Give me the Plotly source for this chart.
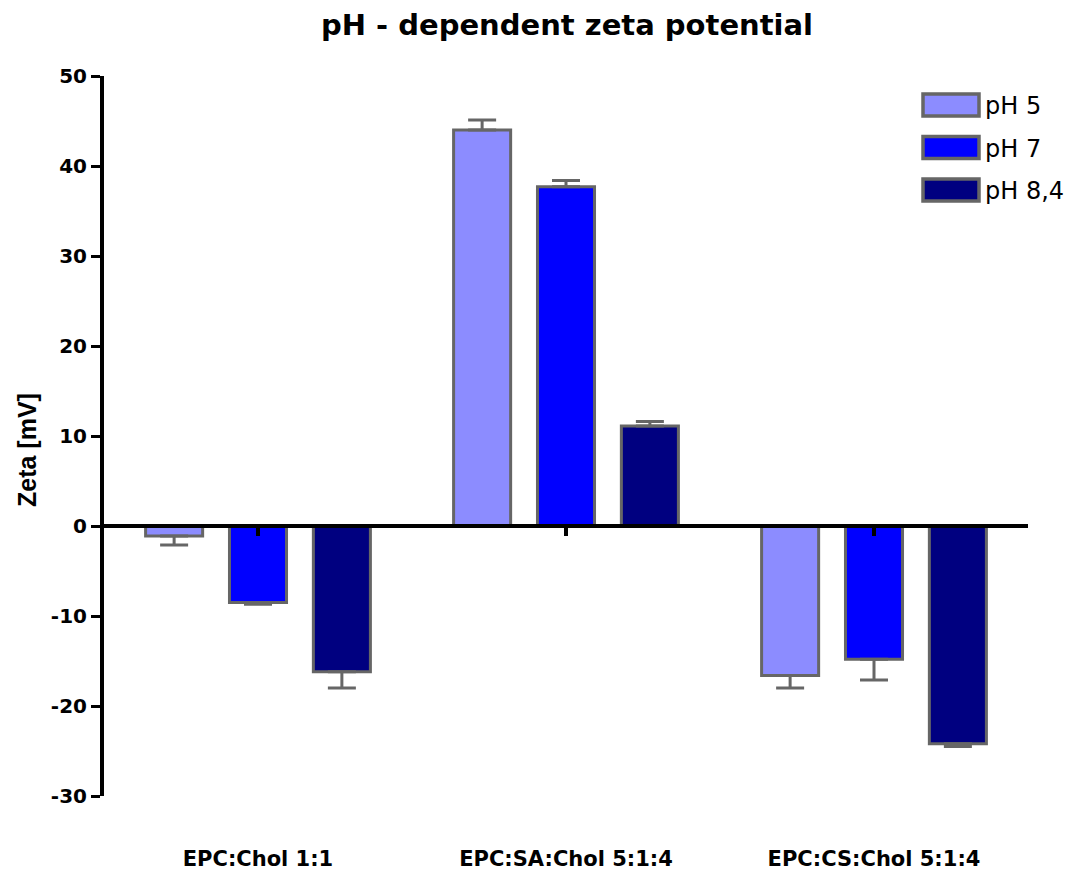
import plotly.graph_objects as go

categories = ["EPC:Chol 1:1", "EPC:SA:Chol 5:1:4", "EPC:CS:Chol 5:1:4"]
series_names = ["pH 5", "pH 7", "pH 8,4"]
ph5_values = [-1.1, 44.0, -16.6]
ph7_values = [-8.5, 37.7, -14.8]
ph84_values = [-16.2, 11.1, -24.2]
ph5_err = [1.0, 1.1, 1.4]
ph7_err = [0.2, 0.7, 2.3]
ph84_err = [1.8, 0.5, 0.3]
y_ticks = [-30, -20, -10, 0, 10, 20, 30, 40, 50]

colors = ["#8c8cff", "#0000ff", "#000080"]
outline = "#666666"
font_wide = "DejaVu Sans, Verdana, sans-serif"
font_narrow = "Liberation Sans, Arial, sans-serif"

values = [ph5_values, ph7_values, ph84_values]
errors = [ph5_err, ph7_err, ph84_err]

fig = go.Figure()
for name, vals, errs, col in zip(series_names, values, errors, colors):
    plus = [e if v >= 0 else 0 for v, e in zip(vals, errs)]
    minus = [e if v < 0 else 0 for v, e in zip(vals, errs)]
    fig.add_trace(go.Bar(
        x=list(range(len(categories))), y=vals, name=name,
        marker=dict(color=col, line=dict(color=outline, width=3)),
        error_y=dict(type="data", symmetric=False, array=plus, arrayminus=minus,
                     color=outline, thickness=3, width=14),
        showlegend=False,
    ))

# invisible trace to activate the zero-positioned axis
fig.add_trace(go.Scatter(x=[0], y=[0], xaxis="x2", mode="markers",
                         marker=dict(opacity=0), showlegend=False, hoverinfo="skip"))

y_min, y_max = -30, 50
zero_pos = (0 - y_min) / (y_max - y_min)

L, R, T, B = 104, 52, 76, 77
W, H = 1080, 873
pw, ph = W - L - R, H - T - B


def px_x(x):
    return (x - L) / pw


def px_y(y):
    return 1 - (y - T) / ph


fig.update_layout(
    width=W, height=H,
    margin=dict(l=L, r=R, t=T, b=B, autoexpand=False),
    paper_bgcolor="white", plot_bgcolor="white",
    barmode="group", bargap=0.183, bargroupgap=0.32,
    title=dict(text="<b>pH - dependent zeta potential</b>", x=567 / W, xanchor="center",
               y=1 - 25 / H, yanchor="middle", font=dict(family=font_wide, size=29, color="black")),
    xaxis=dict(range=[-0.5, 2.5], tickvals=[0, 1, 2],
               ticktext=["<b>%s</b>" % c for c in categories],
               showline=False, ticks="", showgrid=False, zeroline=False,
               ticklabelstandoff=48,
               tickfont=dict(family=font_wide, size=21, color="black")),
    xaxis2=dict(range=[-0.5, 2.5], overlaying="x", anchor="free", position=zero_pos,
                side="bottom", showline=True, linewidth=4, linecolor="black",
                ticks="outside", ticklen=8, tickwidth=4, tickcolor="black",
                tickvals=[0, 1, 2], showticklabels=False, showgrid=False, zeroline=False),
    yaxis=dict(range=[y_min, y_max], tickvals=y_ticks,
               ticktext=["<b>%d</b>" % t for t in y_ticks],
               showline=True, linewidth=4, linecolor="black",
               ticks="outside", ticklen=9, tickwidth=3, tickcolor="black",
               showgrid=False, zeroline=False,
               tickfont=dict(family=font_wide, size=20, color="black")),
)

# y-axis title
fig.add_annotation(xref="paper", yref="paper", x=px_x(27), y=px_y(450),
                   text="<b>Zeta [mV]</b>", textangle=-90, showarrow=False,
                   xanchor="center", yanchor="middle",
                   font=dict(family=font_narrow, size=25, color="black"))

# custom legend (swatch + label), not data marks
legend_x0, legend_x1 = 923, 979
legend_top = 94
legend_step = 42.5
for i, (name, col) in enumerate(zip(series_names, colors)):
    y0 = legend_top + i * legend_step
    fig.add_shape(type="rect", xref="paper", yref="paper",
                  x0=px_x(legend_x0), x1=px_x(legend_x1),
                  y0=px_y(y0), y1=px_y(y0 + 22),
                  fillcolor=col, line=dict(color=outline, width=3.5))
    fig.add_annotation(xref="paper", yref="paper",
                       x=px_x(legend_x1 + 4), y=px_y(y0 + 12),
                       text=name, showarrow=False, xanchor="left", yanchor="middle",
                       font=dict(family=font_wide, size=24, color="black"))

fig.write_html("out.html")
